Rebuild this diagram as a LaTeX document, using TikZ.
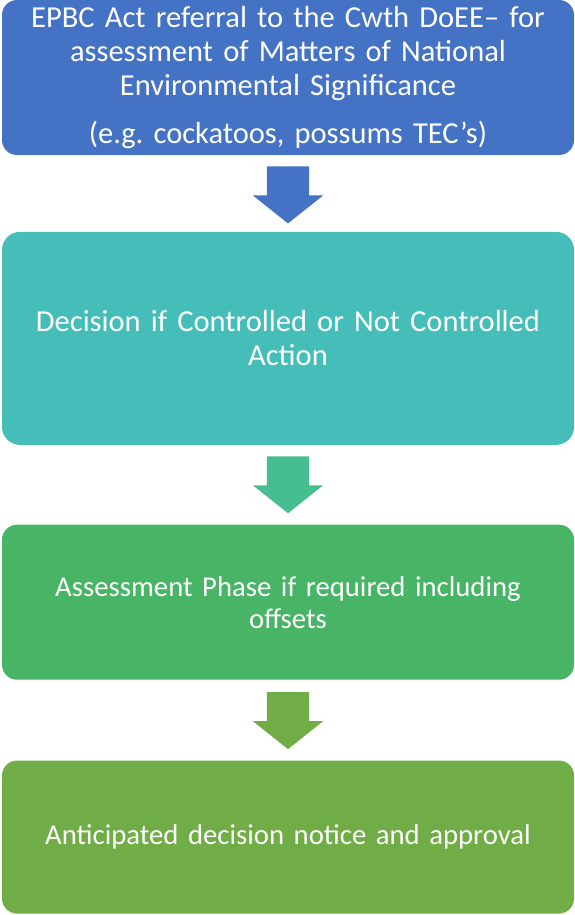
\documentclass[tikz,border=0pt]{standalone}
\usepackage{fontspec}
\setmainfont{Carlito}
\frenchspacing
\usetikzlibrary{positioning, shapes.arrows}
\definecolor{ref_blue}	{RGB}{68,114,196}
\definecolor{dec_teal}	{RGB}{69,190,185}
\definecolor{sea_green}	{RGB}{71,190,143}
\definecolor{ass_green}	{RGB}{71,181,101}
\definecolor{app_olive}	{RGB}{112,173,71}

\begin{document}
\begin{tikzpicture}[auto,
		x               = 1pt,
		y               = 1pt,
		stepBox/.style  = {rectangle,
			text centered,
			rounded corners = 15pt,
			minimum width  = 572pt,
			text width     = 560pt,
			inner sep      = 0pt,
			text           = white},
		bigText/.style  = {font = \fontsize{30.5}{34}\selectfont},
		midText/.style  = {font = \fontsize{28.7}{32}\selectfont},
		downArrow/.style = {single arrow,
			rotate         = -90,
			minimum height = 57pt,
			inner xsep     = 0pt,
			inner ysep     = 21pt,
			single arrow head extend = 14pt,
			single arrow tip angle   = 103}]
		
		\useasboundingbox (0,0) rectangle (575,-915);
		
		\node[stepBox, bigText, fill = ref_blue, minimum height = 155pt] (Referral) at (288,-77.5)
		{ EPBC Act referral to the Cwth DoEE\textendash{} for \\
			assessment of Matters of National \\
			Environmental Significance \\[14pt]
			(e.g. cockatoos, possums TEC’s) };
		
		\node[downArrow, fill = ref_blue, below = 11pt of Referral, anchor = tail] (a1) {};
		
		\node[stepBox, bigText, fill = dec_teal, minimum height = 213pt, rounded corners = 18pt,
			below = 8pt of a1.tip, anchor = north] (Decision)
		{ Decision if Controlled or Not Controlled \\
			Action };
		
		\node[downArrow, fill = sea_green, below = 11pt of Decision, anchor = tail] (a2) {};
		
		\node[stepBox, midText, fill = ass_green, minimum height = 155pt,
			below = 11pt of a2.tip, anchor = north] (Assess)
		{ Assessment Phase if required including \\
			offsets };
		
		\node[downArrow, fill = app_olive, below = 12pt of Assess, anchor = tail] (a3) {};
		
		\node[stepBox, midText, fill = app_olive, minimum height = 153pt,
			below = 11pt of a3.tip, anchor = north] (Approval)
		{ Anticipated decision notice and approval };
		
	\end{tikzpicture}
\end{document}
